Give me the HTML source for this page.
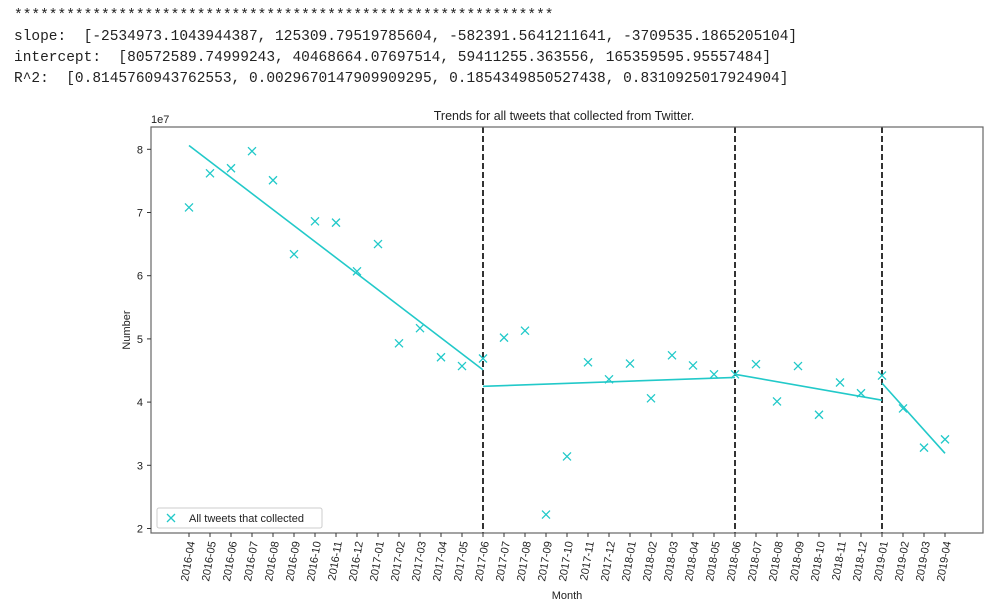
<!DOCTYPE html>
<html><head><meta charset="utf-8"><style>
body{margin:0;background:#fff;width:1002px;height:608px;overflow:hidden;}
.out{position:absolute;left:14px;font-family:"Liberation Mono","Noto Sans CJK SC",monospace;font-size:14.5px;color:#222;white-space:pre;line-height:21px;}
</style></head><body>
<div class="out" style="top:6px">**************************************************************
slope:  [-2534973.1043944387, 125309.79519785604, -582391.5641211641, -3709535.1865205104]
intercept:  [80572589.74999243, 40468664.07697514, 59411255.363556, 165359595.95557484]
R^2:  [0.8145760943762553, 0.0029670147909909295, 0.1854349850527438, 0.8310925017924904]</div>
<svg id="chart" width="1002" height="608" style="position:absolute;left:0;top:0" font-family="Liberation Sans, DejaVu Sans, sans-serif"></svg>
<script>
const months=["2016-04","2016-05","2016-06","2016-07","2016-08","2016-09","2016-10","2016-11","2016-12","2017-01","2017-02","2017-03","2017-04","2017-05","2017-06","2017-07","2017-08","2017-09","2017-10","2017-11","2017-12","2018-01","2018-02","2018-03","2018-04","2018-05","2018-06","2018-07","2018-08","2018-09","2018-10","2018-11","2018-12","2019-01","2019-02","2019-03","2019-04"];
const values=[7.08,7.62,7.70,7.97,7.51,6.34,6.86,6.84,6.07,6.50,4.93,5.17,4.71,4.57,4.69,5.02,5.13,2.22,3.14,4.63,4.36,4.61,4.06,4.74,4.58,4.44,4.44,4.60,4.01,4.57,3.80,4.31,4.14,4.42,3.90,3.28,3.41];
const fitStartIdx=[0,14,26,33];
const fitEndIdx=[14,26,33,36];
const fitStartVal=[8.06,4.25,4.44,4.30];
const fitEndVal=[4.51,4.39,4.03,3.19];
const breakIdx=[14,26,33];
const yTicks=[2,3,4,5,6,7,8];
const NS="http://www.w3.org/2000/svg";
const svg=document.getElementById('chart');
const L=151,R=983,T=127,B=533;
const x=i=>189+i*21;
const y=v=>149.3+(8-v)*63.2;
function mk(t,a,p){const e=document.createElementNS(NS,t);for(const k in a)e.setAttribute(k,a[k]);(p||svg).appendChild(e);return e;}
const C="#22c9c9";
breakIdx.forEach(b=>{const l=mk('line',{x1:x(b),x2:x(b),y1:T,y2:B,stroke:'#333','stroke-width':2,'stroke-dasharray':'6,3'});

});
fitStartIdx.forEach((s,k)=>{const l=mk('line',{x1:x(s),y1:y(fitStartVal[k]),x2:x(fitEndIdx[k]),y2:y(fitEndVal[k]),stroke:C,'stroke-width':1.6});

});
values.forEach((v,i)=>{const g=mk('path',{d:`M${x(i)-4},${y(v)-4}L${x(i)+4},${y(v)+4}M${x(i)-4},${y(v)+4}L${x(i)+4},${y(v)-4}`,stroke:C,'stroke-width':1.3,fill:'none'});

});
const f=mk('rect',{x:L,y:T,width:R-L,height:B-T,fill:'none',stroke:'#666','stroke-width':1.2});


yTicks.forEach(v=>{mk('line',{x1:L-4,x2:L,y1:y(v),y2:y(v),stroke:'#333'});
const t=mk('text',{x:L-8,y:y(v)+4,'text-anchor':'end','font-size':11,fill:'#222'});t.textContent=v;

});
months.forEach((m,i)=>{mk('line',{x1:x(i),x2:x(i),y1:B,y2:B+4,stroke:'#333'});
const t=mk('text',{x:0,y:0,'text-anchor':'end','font-size':11,fill:'#222',transform:`translate(${x(i)+6},${B+9}) rotate(-80)`});t.textContent=m;

});
</script>
<svg width="1002" height="608" style="position:absolute;left:0;top:0" font-family="Liberation Sans, DejaVu Sans, sans-serif">
<text x="564" y="120" text-anchor="middle" font-size="12.5" fill="#222">Trends for all tweets that collected from Twitter.</text>
<text x="151" y="123" font-size="11" fill="#222">1e7</text>
<text transform="translate(130,330) rotate(-90)" text-anchor="middle" font-size="11" fill="#222">Number</text>
<text x="567" y="599" text-anchor="middle" font-size="11" fill="#222">Month</text>
<g>
<rect x="157" y="508" width="165" height="20" rx="2" fill="#fff" stroke="#ccc"/>
<path d="M167,514L175,522M167,522L175,514" stroke="#22c9c9" stroke-width="1.3"/>
<text x="189" y="522" font-size="11" fill="#222">All tweets that collected</text>
</g>
</svg>
</body></html>
